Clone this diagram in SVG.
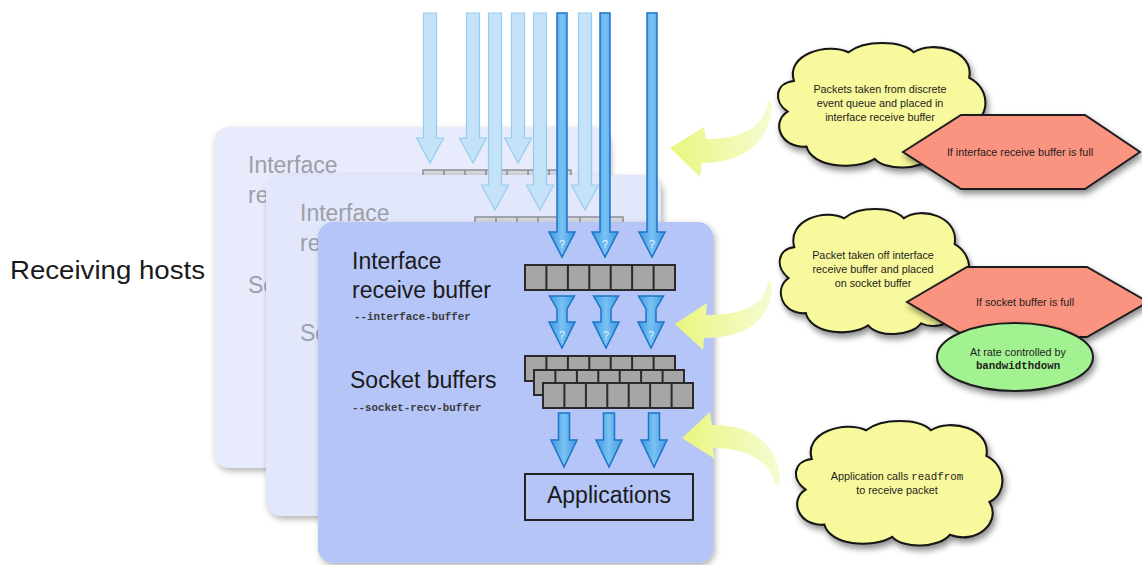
<svg xmlns="http://www.w3.org/2000/svg" width="1142" height="565" viewBox="0 0 1142 565">
  <style>
    .sans { font-family: "Liberation Sans", Arial, sans-serif; }
    .mono { font-family: "Liberation Mono", "Courier New", monospace; }
    .card-back1 { fill: #e7ebfc; }
    .card-back2 { fill: #e2e7fb; }
    .card-front { fill: #b5c5f8; }
    .ghost-text { font-family: "Liberation Sans", Arial, sans-serif; font-size: 23px; fill: #9c9fa8; }
    .host-text { font-family: "Liberation Sans", Arial, sans-serif; font-size: 23px; fill: #1b1b1b; }
    .flag { font-family: "Liberation Mono", "Courier New", monospace; font-size: 10.8px; font-weight: bold; fill: #3a3a3a; }
    .cell { fill: #a6a6a6; stroke: #2a2a2a; stroke-width: 2; }
    .ghost-cell { fill: #d5d7de; stroke: #8d8f96; stroke-width: 1.5; }
    .light-arrow { fill: #c4e3f8; stroke: #96ccef; stroke-width: 1.2; }
    .dark-arrow { fill: url(#blueFill); stroke: #1c74c6; stroke-width: 1.5; }
    .qmark { font-family: "Liberation Sans", Arial, sans-serif; font-size: 11px; fill: #ffffff; fill-opacity: 0.8; text-anchor: middle; }
    .cloud { fill: #f8f89c; stroke: #141414; stroke-width: 2; }
    .hex { fill: #fa937f; stroke: #1e1e1e; stroke-width: 2; }
    .oval { fill: #a3f291; stroke: #1e1e1e; stroke-width: 2; }
    .note { font-family: "Liberation Sans", Arial, sans-serif; font-size: 10.8px; fill: #1e1e1e; text-anchor: middle; }
    .note .code, .note.code { font-family: "Liberation Mono", "Courier New", monospace; }
    .callout-arrow { fill: url(#yellowFill); }
  </style>
  <defs>
    <filter id="shadow" x="-10%" y="-10%" width="130%" height="140%">
      <feDropShadow dx="2" dy="4" stdDeviation="3" flood-color="#000" flood-opacity="0.45"/>
    </filter>
    <filter id="cardShadow" x="-10%" y="-10%" width="125%" height="125%">
      <feDropShadow dx="2" dy="3" stdDeviation="3" flood-color="#000" flood-opacity="0.3"/>
    </filter>
    <linearGradient id="blueFill" x1="0" y1="0" x2="1" y2="0">
      <stop offset="0" stop-color="#3e98e2"/>
      <stop offset="0.5" stop-color="#79c2f3"/>
      <stop offset="1" stop-color="#3e98e2"/>
    </linearGradient>
    <linearGradient id="yellowFill" x1="1" y1="0" x2="0" y2="0">
      <stop offset="0" stop-color="#f6fbd2"/>
      <stop offset="0.6" stop-color="#eef8a0"/>
      <stop offset="1" stop-color="#e9f67c"/>
    </linearGradient>
    <!-- incoming packet arrows, drawn around x = 0 -->
    <path id="inLight1" d="M-6.5,13 H6.5 V138 H13.5 L0,163 L-13.5,138 H-6.5 Z"/>
    <path id="inLight2" d="M-6.5,13 H6.5 V185 H13.5 L0,210 L-13.5,185 H-6.5 Z"/>
    <path id="inDark" d="M-5,13 H5 V232 H13 L0,257 L-13,232 H-5 Z"/>
    <path id="toSocket" d="M-12.5,296 H12.5 L5,309 V322 H13 L0,348 L-13,322 H-5 V309 Z"/>
    <path id="toApp" d="M-5.5,413 H5.5 V440 H13 L0,467 L-13,440 H-5.5 Z"/>
    <!-- one row of seven packet slots -->
    <g id="slots">
      <rect x="0" y="0" width="150" height="25" class="cell"/>
      <path d="M21.4,0 V25 M42.9,0 V25 M64.3,0 V25 M85.7,0 V25 M107.1,0 V25 M128.6,0 V25" fill="none" stroke="#2a2a2a" stroke-width="2"/>
    </g>
    <g id="ghostSlots">
      <rect x="0" y="0" width="148" height="25" class="ghost-cell"/>
      <path d="M21,0 V25 M42,0 V25 M63,0 V25 M84,0 V25 M105,0 V25 M126,0 V25" fill="none" stroke="#8d8f96" stroke-width="1.5"/>
    </g>
    <!-- cloud outline in a 200 x 120 frame -->
    <path id="cloudShape" d="M18,38 C10,12 50,0 70,10 C85,-2 120,-2 132,10 C150,-2 190,8 185,35 C205,45 205,72 188,80 C200,100 175,122 150,112 C140,125 105,126 95,114 C75,126 35,122 30,102 C5,104 -4,78 12,68 C-2,58 0,40 18,38 Z"/>
  </defs>

  <rect width="1142" height="565" fill="#ffffff"/>

  <g id="label-receiving-hosts">
    <text x="10" y="279" class="sans" font-size="25" fill="#1a1a1a" textLength="195" lengthAdjust="spacingAndGlyphs">Receiving hosts</text>
  </g>

  <!-- rear host -->
  <g id="host-1">
    <rect x="214" y="127" width="395" height="341" rx="15" class="card-back1" filter="url(#cardShadow)"/>
    <text x="248" y="173" class="ghost-text">Interface</text>
    <text x="248" y="203" class="ghost-text">re</text>
    <text x="248" y="293" class="ghost-text">So</text>
    <use href="#ghostSlots" x="423" y="170"/>
  </g>

  <!-- middle host -->
  <g id="host-2">
    <rect x="266" y="175" width="395" height="341" rx="15" class="card-back2" filter="url(#cardShadow)"/>
    <text x="300" y="221" class="ghost-text">Interface</text>
    <text x="300" y="251" class="ghost-text">re</text>
    <text x="300" y="341" class="ghost-text">So</text>
    <use href="#ghostSlots" x="475" y="217"/>
  </g>

  <!-- front host -->
  <g id="host-3">
    <rect x="318" y="222" width="395" height="341" rx="15" class="card-front" filter="url(#cardShadow)"/>
    <text x="352" y="269" class="host-text">Interface</text>
    <text x="352" y="298" class="host-text">receive buffer</text>
    <text x="354" y="320" class="flag">--interface-buffer</text>
    <text x="350" y="388" class="host-text">Socket buffers</text>
    <text x="352" y="411" class="flag">--socket-recv-buffer</text>
  </g>

  <g id="interface-buffer">
    <use href="#slots" x="525" y="265"/>
  </g>

  <g id="socket-buffers">
    <use href="#slots" x="525" y="356"/>
    <use href="#slots" x="534" y="370"/>
    <use href="#slots" x="543" y="383"/>
  </g>

  <g id="applications">
    <rect x="525" y="474" width="168" height="46" fill="none" stroke="#222" stroke-width="2"/>
    <text x="609" y="503" class="sans" font-size="23" fill="#1b1b1b" text-anchor="middle">Applications</text>
  </g>

  <g id="connectors">
    <!-- packets arriving at the rear hosts -->
    <use href="#inLight1" x="430" class="light-arrow"/>
    <use href="#inLight1" x="473" class="light-arrow"/>
    <use href="#inLight1" x="518" class="light-arrow"/>
    <use href="#inLight2" x="495" class="light-arrow"/>
    <use href="#inLight2" x="540" class="light-arrow"/>
    <use href="#inLight2" x="585" class="light-arrow"/>
    <!-- packets arriving at the front host -->
    <use href="#inDark" x="562" class="dark-arrow"/>
    <use href="#inDark" x="605" class="dark-arrow"/>
    <use href="#inDark" x="652" class="dark-arrow"/>
    <text x="562" y="248" class="qmark">?</text>
    <text x="605" y="248" class="qmark">?</text>
    <text x="652" y="248" class="qmark">?</text>
    <!-- interface buffer to socket buffers -->
    <use href="#toSocket" x="562" class="dark-arrow"/>
    <use href="#toSocket" x="606" class="dark-arrow"/>
    <use href="#toSocket" x="651" class="dark-arrow"/>
    <text x="562" y="339" class="qmark">?</text>
    <text x="606" y="339" class="qmark">?</text>
    <text x="651" y="339" class="qmark">?</text>
    <!-- socket buffers to applications -->
    <use href="#toApp" x="564" class="dark-arrow"/>
    <use href="#toApp" x="609" class="dark-arrow"/>
    <use href="#toApp" x="654" class="dark-arrow"/>
    <!-- curved pointers from the notes -->
    <path class="callout-arrow" d="M768,100 C766,125 745,139 706,139 L704,127 L670,148 L700,177 L702,163 C745,163 772,140 772,103 Z"/>
    <path class="callout-arrow" d="M768,280 C766,302 748,315 706,315 L707,303 L675,324 L703,350 L704,338 C752,338 773,315 772,283 Z"/>
    <path class="callout-arrow" d="M682,438 L710,412 L712,425 C755,424 781,448 780,484 L775,484 C770,462 748,448 713,448 L715,459 Z"/>
  </g>

  <g id="note-enqueue">
    <use href="#cloudShape" class="cloud" filter="url(#shadow)" transform="translate(775,42) scale(1.05,1.025)"/>
    <text class="note" x="880" y="93">Packets taken from discrete</text>
    <text class="note" x="880" y="107">event queue and placed in</text>
    <text class="note" x="880" y="121">interface receive buffer</text>
  </g>

  <g id="cond-interface-full">
    <polygon class="hex" filter="url(#shadow)" points="903,152 961,115 1085,115 1140,152 1085,189 961,189"/>
    <text class="note" x="1020" y="156">If interface receive buffer is full</text>
  </g>

  <g id="note-transfer">
    <use href="#cloudShape" class="cloud" filter="url(#shadow)" transform="translate(777,208) scale(0.96,1.03)"/>
    <text class="note" x="873" y="259">Packet taken off interface</text>
    <text class="note" x="873" y="273">receive buffer and placed</text>
    <text class="note" x="873" y="287">on socket buffer</text>
  </g>

  <g id="cond-socket-full">
    <polygon class="hex" filter="url(#shadow)" points="907,302 967,267 1087,267 1148,302 1087,337 967,337"/>
    <text class="note" x="1025" y="306">If socket buffer is full</text>
  </g>

  <g id="cond-rate">
    <ellipse class="oval" filter="url(#shadow)" cx="1015" cy="357" rx="78" ry="34"/>
    <text class="note" x="1018" y="356">At rate controlled by</text>
    <text class="note code" x="1018" y="369" font-weight="bold">bandwidthdown</text>
  </g>

  <g id="note-read">
    <use href="#cloudShape" class="cloud" filter="url(#shadow)" transform="translate(793,420) scale(1.045,1.025)"/>
    <text class="note" x="897" y="480">Application calls <tspan class="code">readfrom</tspan></text>
    <text class="note" x="897" y="494">to receive packet</text>
  </g>
</svg>
